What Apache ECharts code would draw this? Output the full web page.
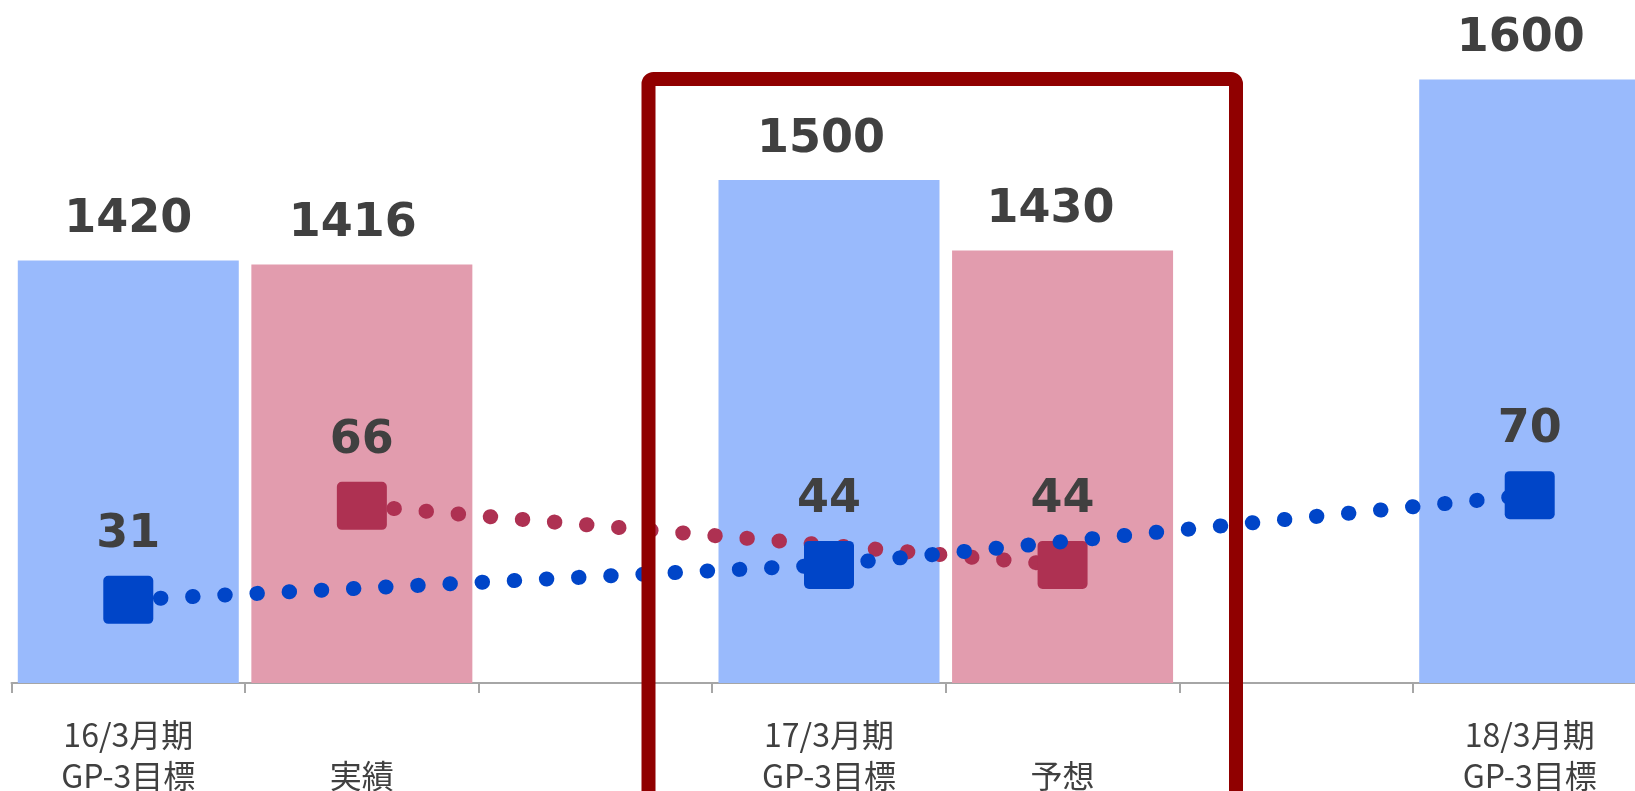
<!DOCTYPE html>
<html>
<head>
<meta charset="utf-8">
<script src="https://cdn.jsdelivr.net/npm/echarts@6/dist/echarts.min.js"></script>
<style>
html,body{margin:0;padding:0;background:#fff;overflow:hidden;}
#c{width:1635px;height:791px;}
</style>
</head>
<body>
<div id="c"></div>
<script>
// categories (two-line labels)
const categories = ['16/3月期\nGP-3目標', '\n実績', '', '17/3月期\nGP-3目標', '\n予想', '', '18/3月期\nGP-3目標'];
// bar values (target = blue, actual/forecast = pink)
const targetBars = [1420, null, null, 1500, null, null, 1600];
const resultBars = [null, 1416, null, null, 1430, null, null];
// line values (secondary axis)
const targetLine = [31, null, null, 44, null, null, 70];
const resultLine = [null, 66, null, null, 44, null, null];

const BLUE_BAR = '#99BAFC';
const PINK_BAR = '#E29CAE';
const BLUE_LINE = '#0045C8';
const PINK_LINE = '#AE3152';
const TXT = '#404040';
const sq = 'path://M1,0H9A1,1 0 0 1 10,1V9A1,1 0 0 1 9,10H1A1,1 0 0 1 0,9V1A1,1 0 0 1 1,0Z';
// horizontal nudges of the bar value labels (styling only)
const barLabelNudge = [0, -9, 0, -8, -12, 0, -9];
const numLabel = {
  show: true, position: 'top', color: TXT, fontWeight: 'bold',
  fontFamily: 'DejaVu Sans', fontSize: 46
};
function barData(vals) {
  return vals.map((v, i) => v == null ? null : {value: v, label: {offset: [barLabelNudge[i], 0]}});
}

const chart = echarts.init(document.getElementById('c'), null, {renderer: 'canvas'});
chart.setOption({
  animation: false,
  backgroundColor: '#fff',
  grid: {left: 11.5, width: 1635, top: 4, height: 679, outerBoundsMode: 'none', containLabel: false},
  xAxis: {
    type: 'category', data: categories,
    axisLine: {lineStyle: {color: '#A6A6A6', width: 2}},
    axisTick: {show: true, length: 10, lineStyle: {color: '#A6A6A6', width: 2}},
    axisLabel: {
      color: TXT, fontFamily: 'Noto Sans CJK JP', fontSize: 32,
      lineHeight: 41, margin: 31, interval: 0
    }
  },
  yAxis: [
    {type: 'value', min: 1000, max: 1675, show: false, splitLine: {show: false}},
    {type: 'value', min: 0, max: 253, show: false, splitLine: {show: false}}
  ],
  series: [
    {type: 'bar', data: barData(targetBars), barWidth: 221, barGap: '-100%', itemStyle: {color: BLUE_BAR},
     label: Object.assign({}, numLabel, {distance: 17})},
    {type: 'bar', data: barData(resultBars), barWidth: 221, barGap: '-100%', itemStyle: {color: PINK_BAR},
     label: Object.assign({}, numLabel, {distance: 17})},
    {type: 'line', yAxisIndex: 1, data: resultLine, connectNulls: true,
     symbol: sq, symbolSize: [50, 48], itemStyle: {color: PINK_LINE},
     lineStyle: {color: PINK_LINE, width: 15, type: [0.5, 31.7], cap: 'round'},
     label: Object.assign({}, numLabel, {distance: 18}), z: 3},
    {type: 'line', yAxisIndex: 1, data: targetLine, connectNulls: true,
     symbol: sq, symbolSize: [50, 48], itemStyle: {color: BLUE_LINE},
     lineStyle: {color: BLUE_LINE, width: 15, type: [0.5, 31.7], cap: 'round'},
     label: Object.assign({}, numLabel, {distance: 18}), z: 4}
  ],
  graphic: [{
    type: 'rect', z: 100,
    shape: {x: 648.5, y: 79, width: 587.5, height: 800, r: 5},
    style: {fill: null, stroke: '#900000', lineWidth: 14}
  }]
});
</script>
</body>
</html>
